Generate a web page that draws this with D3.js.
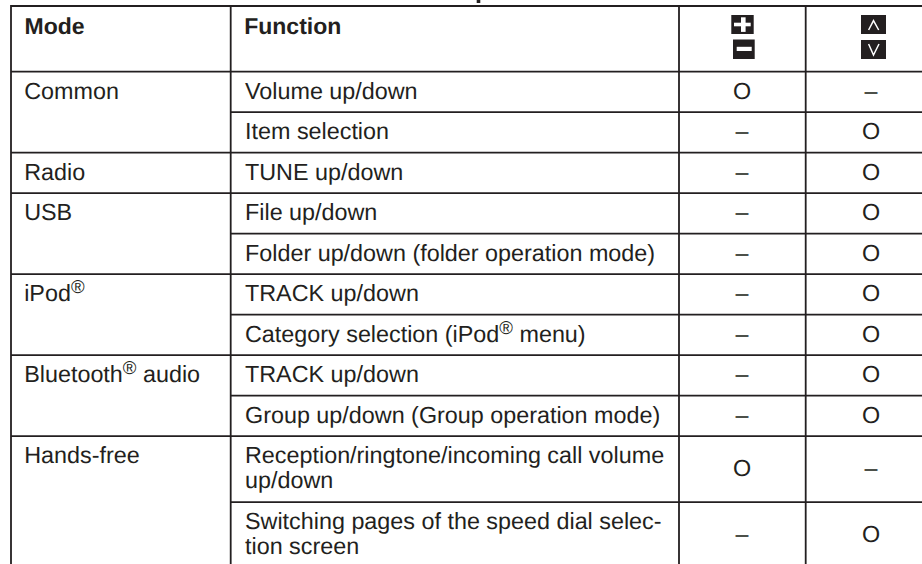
<!DOCTYPE html>
<html>
<head>
<meta charset="utf-8">
<script src="https://cdn.jsdelivr.net/npm/d3@7"></script>
<style>
  html, body { margin: 0; padding: 0; background: #fff; overflow: hidden; }
  svg { display: block; }
  text { font-family: "Liberation Sans", Arial, sans-serif; font-size: 23.35px; fill: #231f20; text-rendering: geometricPrecision; }
</style>
</head>
<body>
<svg id="svg" width="922" height="564"></svg>
<script>
var columns = ["Mode", "Function", "plusMinus", "upDown"];
var modes = ["Common", "", "Radio", "USB", "", "iPod®", "", "Bluetooth® audio", "", "Hands-free", ""];
var functions = [
  ["Volume up/down"],
  ["Item selection"],
  ["TUNE up/down"],
  ["File up/down"],
  ["Folder up/down (folder operation mode)"],
  ["TRACK up/down"],
  ["Category selection (iPod® menu)"],
  ["TRACK up/down"],
  ["Group up/down (Group operation mode)"],
  ["Reception/ringtone/incoming call volume", "up/down"],
  ["Switching pages of the speed dial selec-", "tion screen"]
];
var plusMinus = ["O", "–", "–", "–", "–", "–", "–", "–", "–", "O", "–"];
var upDown = ["–", "O", "O", "O", "O", "O", "O", "O", "O", "–", "O"];

var ink = "#231f20";
var svg = d3.select("#svg");

var x = d3.scaleOrdinal().domain(columns).range([11, 230.7, 679, 805.7]);
var center = d3.scaleOrdinal().domain(columns.slice(2)).range([742, 871]);
// one unit = height of a one line row
var y = d3.scaleLinear().domain([0, 1]).range([6, 46.5]);
var headerUnits = 1.62, tallUnits = 1.63;

var rows = [];
var top_u = headerUnits;
functions.forEach(function(lines, i) {
  var units = lines.length > 1 ? tallUnits : 1;
  rows.push({ mode: modes[i], lines: lines, plus: plusMinus[i], up: upDown[i], top: top_u, units: units });
  top_u += units;
});

// writes a string into a text node, raising the ® signs
function addLabel(sel, str) {
  var parts = str.split("®");
  parts.forEach(function(p, i) {
    var t = sel.append("tspan").text(p);
    if (i > 0) t.attr("dy", 8);
    if (i < parts.length - 1) {
      sel.append("tspan").text("®").attr("dy", -8).style("font-size", "18.5px");
    }
  });
}

// grid
svg.append("line").attr("x1", x("Mode")).attr("x2", 922).attr("y1", y(0)).attr("y2", y(0))
  .attr("stroke", ink).attr("stroke-width", 2);
svg.append("line").attr("x1", x("Mode")).attr("x2", 922).attr("y1", y(headerUnits)).attr("y2", y(headerUnits))
  .attr("stroke", ink).attr("stroke-width", 1.8);

svg.selectAll("line.row").data(rows.slice(1)).enter().append("line")
  .attr("class", "row")
  .attr("x1", function(d) { return d.mode ? x("Mode") : x("Function"); })
  .attr("x2", 922)
  .attr("y1", function(d) { return y(d.top); })
  .attr("y2", function(d) { return y(d.top); })
  .attr("stroke", ink).attr("stroke-width", 1.8);

svg.selectAll("line.col").data(columns).enter().append("line")
  .attr("class", "col")
  .attr("x1", function(d) { return x(d); })
  .attr("x2", function(d) { return x(d); })
  .attr("y1", y(0) - 1)
  .attr("y2", 564)
  .attr("stroke", ink).attr("stroke-width", 1.8);

// what is left of the cut off title above the table
svg.append("rect").attr("x", 476.7).attr("y", 0).attr("width", 3.6).attr("height", 3).attr("fill", ink);

// header
svg.selectAll("text.head").data(columns.slice(0, 2)).enter().append("text")
  .attr("class", "head")
  .attr("x", function(d) { return x(d) + 13.5; })
  .attr("y", 33.5)
  .style("font-weight", "bold")
  .style("font-size", "23px")
  .text(function(d) { return d; });

// header icons
var icons = svg.append("g");
icons.append("rect").attr("x", 731.3).attr("y", 15).attr("width", 22.4).attr("height", 19).attr("fill", ink);
icons.append("rect").attr("x", 734).attr("y", 22.7).attr("width", 16.7).attr("height", 3.6).attr("fill", "#fff");
icons.append("rect").attr("x", 741).attr("y", 17.3).attr("width", 4.6).attr("height", 14.6).attr("fill", "#fff");
icons.append("rect").attr("x", 733).attr("y", 39.5).attr("width", 21.7).attr("height", 19.5).attr("fill", ink);
icons.append("rect").attr("x", 736.7).attr("y", 46.8).attr("width", 15).attr("height", 4.2).attr("fill", "#fff");
icons.append("rect").attr("x", 861).attr("y", 15).attr("width", 25).attr("height", 19).attr("fill", ink);
icons.append("rect").attr("x", 861).attr("y", 40).attr("width", 25).attr("height", 19).attr("fill", ink);
var chevron = d3.line();
icons.append("path").attr("d", chevron([[868.6, 30], [873.5, 20.6], [878.7, 30]]))
  .attr("fill", "none").attr("stroke", "#fff").attr("stroke-width", 1.5);
icons.append("path").attr("d", chevron([[868.6, 44], [873.5, 55], [879, 44]]))
  .attr("fill", "none").attr("stroke", "#fff").attr("stroke-width", 1.5);

// body
var row = svg.selectAll("g.body").data(rows).enter().append("g").attr("class", "body");

row.append("text")
  .attr("x", x("Mode") + 13.2)
  .attr("y", function(d) { return y(d.top) + 27; })
  .each(function(d) { addLabel(d3.select(this), d.mode); });

row.each(function(d) {
  var g = d3.select(this);
  d.lines.forEach(function(line, i) {
    var t = g.append("text")
      .attr("x", x("Function") + 14.3)
      .attr("y", y(d.top) + 27 + i * 25);
    addLabel(t, line);
  });
});

["plus", "up"].forEach(function(key, k) {
  row.append("text")
    .attr("x", center(columns[k + 2]))
    .attr("y", function(d) { return y(d.top) + (d.units > 1 ? 40 : 27); })
    .attr("text-anchor", "middle")
    .text(function(d) { return d[key]; });
});
</script>
</body>
</html>
